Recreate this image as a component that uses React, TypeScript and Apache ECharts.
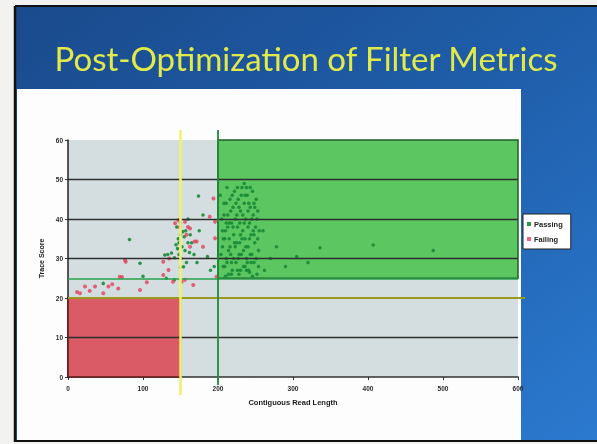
import React, { useEffect, useRef } from "react";
import * as echarts from "echarts";

const xTicks = [0, 100, 200, 300, 400, 500, 600];
const yTicks = [0, 10, 20, 30, 40, 50, 60];

const passing: number[][] = [
  [47, 23.7], [82, 34.8], [96, 28.8], [100, 25.5], [129, 30.9], [133, 31], [138, 31.4], [142, 30.2],
  [146, 32.5], [148, 34], [150, 36], [152, 33], [155, 35.5], [157, 37], [160, 34], [162, 31.5],
  [158, 29], [150, 27.8], [154, 27.9], [131, 25], [142, 24.6], [174, 45.8], [180, 41], [145, 38],
  [150, 39], [153, 36.8], [147, 35], [165, 34], [168, 31], [172, 29], [186, 30.5], [190, 27],
  [195, 28], [175, 37], [160, 40], [148, 31], [144, 33.5], [156, 32], [151, 30], [163, 36],
  [203, 46], [205, 40], [206, 33], [207, 28], [208, 44], [210, 37], [211, 30], [212, 48], [213, 41],
  [214, 26], [215, 35], [216, 45], [217, 31], [218, 39], [219, 27], [220, 43], [221, 36], [222, 47],
  [223, 33], [224, 29], [225, 41], [226, 38], [227, 45], [228, 26], [229, 34], [230, 42], [231, 31],
  [232, 48], [233, 37], [234, 28], [235, 44], [236, 35], [237, 40], [238, 30], [239, 46], [240, 33],
  [241, 27], [242, 39], [243, 43], [244, 36], [245, 31], [246, 47], [247, 41], [248, 29], [249, 34],
  [250, 38], [251, 45], [252, 26], [253, 42], [254, 32], [255, 37], [209, 35], [213, 38], [217, 42],
  [221, 30], [225, 34], [229, 39], [233, 41], [237, 33], [241, 44], [245, 40], [249, 43], [253, 35],
  [228, 31], [232, 35], [236, 46], [240, 38], [244, 29], [248, 36], [224, 44], [220, 38], [216, 33],
  [212, 29], [235, 49], [243, 48], [226, 27], [238, 27], [246, 25.5], [210, 25.5],
  [204, 31], [206, 37], [208, 41], [209, 28], [211, 44], [214, 32], [215, 39], [218, 29], [219, 46],
  [222, 34], [223, 40], [227, 30], [228, 43], [230, 36], [231, 46], [234, 32], [235, 39], [239, 29],
  [240, 42], [242, 35], [243, 31], [247, 37], [248, 44], [251, 30], [252, 40], [254, 28], [230, 27],
  [236, 28], [242, 26.5], [218, 26], [207, 35], [211, 39], [226, 48], [238, 48],
  [260, 37], [278, 33], [305, 30.5], [336, 32.7], [290, 28], [320, 29], [407, 33.4], [487, 32],
  [270, 30], [262, 27],
];

const failing: number[][] = [
  [16, 21.2], [22.7, 22.9], [12, 21.5], [36, 22.9], [47, 21.2], [53.8, 22.9], [67, 22.4], [96, 22],
  [69, 25.4], [72, 25.3], [77, 29.2], [76, 29.6], [127, 29.2], [127, 25.8], [134, 27.1], [140, 24.1],
  [151.5, 24.1], [156, 24.6], [167, 23.3], [142.7, 38.9], [147, 39.7], [149, 38], [156, 39.3],
  [160, 38], [162.7, 37.6], [158, 36], [169, 34.3], [171.6, 34.3], [180, 33], [162.7, 33],
  [189, 40.6], [194, 45.2], [196, 39.3], [196, 35.1], [198, 25.4], [135, 30], [59, 23.5],
  [29, 21.8], [105, 24],
];

const failRegion = [[0, 0], [150, 20]];
const passRegion = [[200, 25], [600, 60]];
const gridValues = [10, 30, 40, 50];
const lengthCut = 150;
const lengthCutPass = 200;
const scoreCut = 20;
const scoreCutPass = 25;

export default function App() {
  const ref = useRef<HTMLDivElement>(null);
  useEffect(() => {
    const chart = echarts.init(ref.current!, undefined, { renderer: "svg" });
    const labelFont = { fontSize: 6.5, fontWeight: "bold" as const, color: "#2a2a2a", fontFamily: "Liberation Sans" };
    chart.setOption({
      animation: false,
      graphic: [
        { id: "bg", type: "rect", z: -20, shape: { x: 0, y: 0, width: 597, height: 444 }, style: { fill: "#f2f2f0" } },
        {
          id: "blue", type: "rect", z: -19, shape: { x: 15, y: 6, width: 582, height: 436 },
          style: {
            fill: new echarts.graphic.LinearGradient(0, 0, 1, 1, [
              { offset: 0, color: "#1a4a8c" },
              { offset: 0.5, color: "#1f5eaa" },
              { offset: 1, color: "#2b7ad0" },
            ]),
          },
        },
        { id: "white", type: "rect", z: -18, shape: { x: 17, y: 89, width: 504, height: 351 }, style: { fill: "#fdfdfd" } },
        { id: "l1", type: "line", z: -17, shape: { x1: 15, y1: 6, x2: 15, y2: 442 }, style: { stroke: "#111", lineWidth: 2.5 } },
        { id: "l2", type: "line", z: -17, shape: { x1: 15, y1: 6, x2: 597, y2: 6 }, style: { stroke: "#111", lineWidth: 2 } },
        { id: "l3", type: "line", z: -17, shape: { x1: 15, y1: 441, x2: 597, y2: 441 }, style: { stroke: "#111", lineWidth: 2 } },
        {
          id: "title", type: "text", z: 5, x: 306, y: 58,
          style: {
            text: "Post-Optimization of Filter Metrics", fill: "#e2ea4a", font: "33px Lato",
            textAlign: "center", textVerticalAlign: "middle",
          },
        },
      ],
      grid: {
        left: 68, top: 140, right: 79, bottom: 67, show: true,
        backgroundColor: "#d4dee0", borderWidth: 0,
      },
      legend: {
        orient: "vertical", left: 523, top: 214, backgroundColor: "#ffffff",
        borderColor: "#222", borderWidth: 1, padding: [6, 8, 6, 4], itemGap: 7,
        itemWidth: 4, itemHeight: 4, icon: "rect",
        textStyle: { fontSize: 7.5, fontWeight: "bold", color: "#222", fontFamily: "Liberation Sans", padding: [0, 0, 0, -2] },
        data: ["Passing", "Failing"],
      },
      xAxis: {
        type: "value", min: 0, max: 600, interval: 100,
        name: "Contiguous Read Length", nameLocation: "middle", nameGap: 21,
        nameTextStyle: { fontSize: 7.5, fontWeight: "bold", color: "#1a1a1a", fontFamily: "Liberation Sans" },
        axisLine: { show: true, lineStyle: { color: "#333", width: 1.5 } },
        axisTick: { show: true, length: 3, lineStyle: { color: "#333" } },
        axisLabel: { ...labelFont, margin: 8, formatter: (v: number) => (xTicks.includes(v) ? String(v) : "") },
        splitLine: { show: false },
      },
      yAxis: {
        type: "value", min: 0, max: 60, interval: 10,
        name: "Trace Score", nameLocation: "middle", nameGap: 13, nameRotate: 90,
        nameTextStyle: { fontSize: 7, fontWeight: "bold", color: "#1a1a1a", fontFamily: "Liberation Sans" },
        axisLine: { show: true, lineStyle: { color: "#222", width: 1.5 } },
        axisTick: { show: true, length: 3, lineStyle: { color: "#333" } },
        axisLabel: { ...labelFont, margin: 5, formatter: (v: number) => (yTicks.includes(v) ? String(v) : "") },
        splitLine: { show: false },
      },
      series: [
        {
          name: "regions", type: "scatter", data: [], z: 1, silent: true,
          markArea: {
            silent: true,
            data: [
              [
                { coord: failRegion[0], itemStyle: { color: "#da5a66", borderColor: "#5e1a1a", borderWidth: 1.5 } },
                { coord: failRegion[1] },
              ],
              [
                { coord: passRegion[0], itemStyle: { color: "#5cc660", borderColor: "#1d5e2a", borderWidth: 1.5 } },
                { coord: passRegion[1] },
              ],
            ],
          },
        },
        {
          name: "lines", type: "scatter", data: [], z: 2, silent: true,
          markLine: {
            silent: true, symbol: "none", label: { show: false },
            data: [
              ...gridValues.map((v) => ({ yAxis: v, lineStyle: { color: "#2e2e2e", width: 1.3, type: "solid" } })),
              { yAxis: scoreCutPass, lineStyle: { color: "#2aa04a", width: 1.5, type: "solid" } },
            ],
          },
        },
        {
          name: "Passing", type: "scatter", data: passing, z: 3, symbol: "circle", symbolSize: 3.5,
          itemStyle: { color: "#178a38", opacity: 0.9 },
        },
        {
          name: "Failing", type: "scatter", data: failing, z: 4, symbol: "circle", symbolSize: 4,
          itemStyle: { color: "#e2405e" },
        },
      ],
    });
    // threshold lines extend a little past the plot, as in the slide
    const [xa] = chart.convertToPixel({ gridIndex: 0 }, [lengthCut, 0]) as number[];
    const [xb] = chart.convertToPixel({ gridIndex: 0 }, [lengthCutPass, 0]) as number[];
    const [x0, yTop] = chart.convertToPixel({ gridIndex: 0 }, [0, 60]) as number[];
    const [xEnd, yBot] = chart.convertToPixel({ gridIndex: 0 }, [600, 0]) as number[];
    const [, yCut] = chart.convertToPixel({ gridIndex: 0 }, [0, scoreCut]) as number[];
    chart.setOption({
      graphic: [
        { id: "hOlive", type: "line", z: 5, shape: { x1: x0, y1: yCut, x2: xEnd + 7, y2: yCut }, style: { stroke: "#9a9a20", lineWidth: 1.8 } },
        { id: "vYellow", type: "line", z: 6, shape: { x1: xa, y1: yTop - 10, x2: xa, y2: yBot + 18 }, style: { stroke: "#f2f26a", lineWidth: 2.5 } },
        { id: "vGreen", type: "line", z: 6, shape: { x1: xb, y1: yTop - 10, x2: xb, y2: yBot + 8 }, style: { stroke: "#1f8a38", lineWidth: 1.8 } },
      ],
    });
    return () => chart.dispose();
  }, []);
  return <div ref={ref} style={{ position: "fixed", left: 0, top: 0, width: 597, height: 444 }} />;
}
